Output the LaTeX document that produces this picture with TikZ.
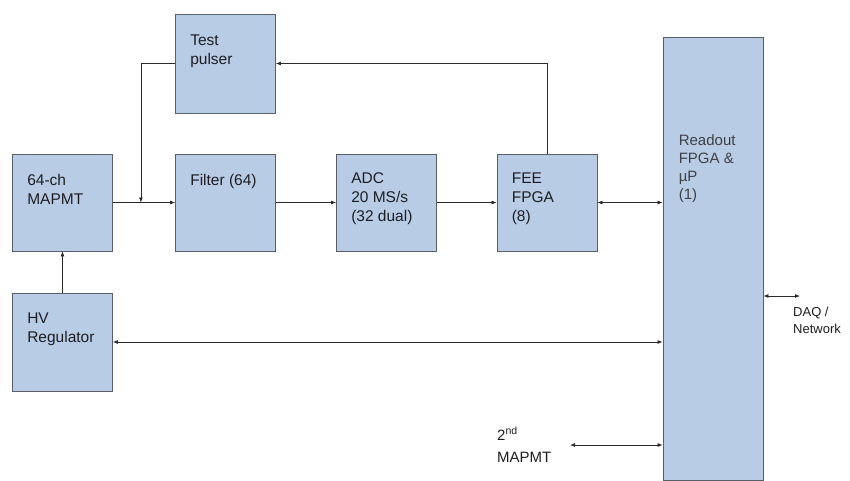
\documentclass[tikz,border=0pt]{standalone}
\usepackage{fontspec}
\setmainfont{Liberation Sans}
\usetikzlibrary{arrows.meta, positioning, calc}
\definecolor{boxfill}{HTML}{B9CCE6}
\definecolor{boxline}{HTML}{5A5E66}
\definecolor{wire}{HTML}{2A2A2A}
\definecolor{ink}{HTML}{1E1E22}

\begin{document}
\begin{tikzpicture}[
  x=1pt, y=-1pt,
  >={Latex[length=5pt, width=4pt]},
  every node/.style={text=ink},
  blk/.style={draw=boxline, fill=boxfill, line width=0.8pt, minimum width=100pt, minimum height=97pt, inner sep=0pt},
  blktext/.style={anchor=north west, align=left, inner sep=0pt, font=\fontsize{15.5}{19}\selectfont},
  conn/.style={draw=wire, line width=0.75pt},
]

% Frame
\useasboundingbox (0,0) rectangle (850,480);

% Blocks
\node[blk] (mapmt)  at (62.5,202.5) {};
\node[blk] (filter) at (225.5,202.5) {};
\node[blk] (adc)    at (386.5,202.5) {};
\node[blk] (fee)    at (547,202.5) {};
\node[blk, minimum height=99pt] (pulser) at (225.5,63.5) {};
\node[blk, minimum height=98pt] (hv) at (62.5,342) {};
\node[blk, minimum height=443pt] (readout) at (713,258.5) {};

% Block texts
\node[blktext] (mapmt txt)  at ($(mapmt.north west)+(15,20)$)  {64-ch\\MAPMT};
\node[blktext] (filter txt) at ($(filter.north west)+(15,20)$) {Filter (64)};
\node[blktext] (adc txt)    at ($(adc.north west)+(15,19)$)    {ADC\\20 MS/s\\(32 dual)};
\node[blktext] (fee txt)    at ($(fee.north west)+(15,19)$)    {FEE\\FPGA\\(8)};
\node[blktext] (pulser txt) at ($(pulser.north west)+(15,21)$) {Test\\pulser};
\node[blktext] (hv txt)     at ($(hv.north west)+(15,20)$)     {HV\\Regulator};
\node[blktext, font=\fontsize{15}{18}\selectfont, text=ink!85] (readout txt)
  at ($(readout.north west)+(16,98)$) {Readout\\FPGA \&\\µP\\(1)};

% Outside labels
\node[blktext, font=\fontsize{13}{17}\selectfont] (daq) at (793,307) {DAQ /\\Network};
\node[blktext, font=\fontsize{15}{22}\selectfont] (second) at (497,427) {2\textsuperscript{nd}\\MAPMT};
\coordinate (daq end) at (800,296);
\coordinate (sec end) at (570,445);

% Signal chain
\coordinate (jn) at ($(mapmt.east)!0.45!(filter.west)$);
\draw[conn, ->] (mapmt) -- (filter);
\draw[conn, ->] (pulser.west) -| (jn);
\draw[conn, ->] (filter) -- (adc);
\draw[conn, ->] (adc) -- (fee);
\draw[conn, ->] (fee.north) |- (pulser.east);
\draw[conn, <->] (fee.east) -- (fee.east -| readout.west);

% HV and readout links
\draw[conn, ->] (hv) -- (mapmt);
\draw[conn, <->] (hv.east) -- (hv.east -| readout.west);
\draw[conn, <->] (daq end -| readout.east) -- (daq end);
\draw[conn, <->] (sec end) -- (sec end -| readout.west);

\end{tikzpicture}
\end{document}
